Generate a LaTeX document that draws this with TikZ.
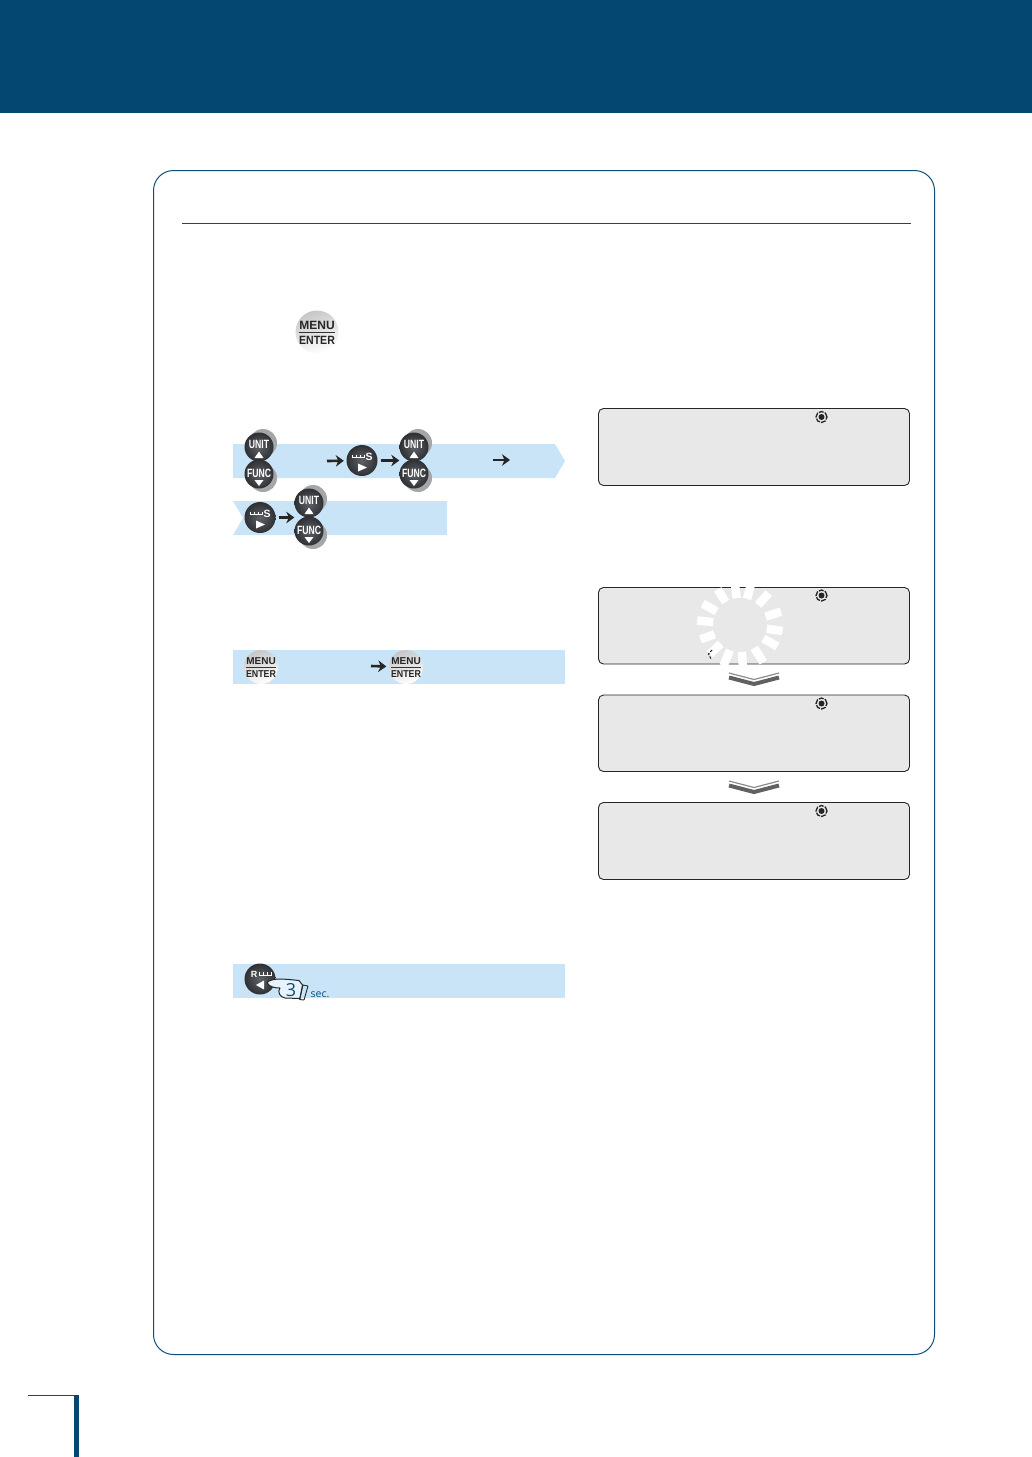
\documentclass[tikz,border=0pt]{standalone}
\usepackage{graphicx}
\usepackage{fontspec}
\setmainfont{Liberation Sans}
\newfontfamily\humanfont{Open Sans}
\usetikzlibrary{arrows.meta,calc}
\definecolor{navy}{HTML}{04476F}
\definecolor{framec}{HTML}{0B4F78}
\definecolor{bandc}{HTML}{C9E4F6}
\definecolor{lcdc}{HTML}{E8E8E8}
\definecolor{btnin}{HTML}{5E6266}
\definecolor{btnout}{HTML}{2E3034}
\definecolor{crescent}{HTML}{A4A6A8}
\tikzset{
  band/.style={fill=bandc,draw=none},
  lcd/.style={draw=black!85,line width=0.9pt,fill=lcdc,rounded corners=5pt},
  darkbtn/.style={circle,minimum size=#1,inner sep=0pt,shading=radial,inner color=btnin,outer color=btnout},
  lightbtn/.style={circle,minimum size=#1,inner sep=0pt,shading=axis,top color=black!22,bottom color=white,shading angle=20},
  backbtn/.style={circle,minimum size=28pt,inner sep=0pt,fill=crescent},
  btntext/.style={text=white,font=\bfseries\fontsize{12}{12}\selectfont,inner sep=0pt},
  menutext/.style={text=black!85,font=\bfseries\fontsize{#1}{#1}\selectfont,inner sep=0pt},
  step arrow/.style={-{Stealth[length=8pt,width=11.5pt,inset=2.5pt]},line width=2.6pt,draw=black!85},
  tick/.style={line width=0.7pt,draw=white},
  ray/.style={draw=white,line width=10pt},
  chevthin/.style={draw=black!45,line width=1.2pt},
  chevthick/.style={draw=black!62,line width=4pt},
  bullseye/.style={circle,minimum size=6pt,inner sep=0pt,fill=black!85},
  bullring/.style={circle,minimum size=11pt,inner sep=0pt,draw=black!85,line width=1.3pt,dash pattern=on 5pt off 1.2pt,fill=none},
  hand/.style={draw=black!85,line width=1pt,fill=bandc!45!white,line join=round},
  blue text/.style={text=framec,inner sep=0pt},
}
\newcommand{\unitbtn}[3]{%
  \node[backbtn] (#1b) at (#2+4,#3-4) {};
  \node[darkbtn=29pt] (#1) at (#2,#3) {};
  \node[btntext] (#1t) at (#2,#3-3) {\scalebox{0.72}[1]{UNIT}};
  \fill[white] (#2-4.5,#3+11) -- (#2+4.5,#3+11) -- (#2,#3+4.5) -- cycle;}
\newcommand{\funcbtn}[3]{%
  \node[backbtn] (#1b) at (#2+4,#3+4) {};
  \node[darkbtn=29pt] (#1) at (#2,#3) {};
  \node[btntext] (#1t) at (#2,#3-1) {\scalebox{0.72}[1]{FUNC}};
  \fill[white] (#2-4.5,#3+6) -- (#2+4.5,#3+6) -- (#2,#3+12) -- cycle;}
\newcommand{\sbtn}[3]{%
  \node[darkbtn=31pt] (#1) at (#2,#3) {};
  \node[btntext] (#1t) at (#2+7,#3-4) {\fontsize{10.5}{10.5}\selectfont S};
  \draw[tick] (#2-10,#3-6) -- (#2-10,#3-3) -- (#2+2,#3-3) (#2-6,#3-6) -- (#2-6,#3-3) (#2-2,#3-6) -- (#2-2,#3-3) (#2+2,#3-6) -- (#2+2,#3-3);
  \fill[white] (#2-4,#3+3) -- (#2-4,#3+11) -- (#2+5,#3+7) -- cycle;}
\newcommand{\menubtn}[5]{% name x y dia fontsize
  \node[lightbtn=#4pt] (#1) at (#2,#3) {};
  \node[menutext=#5] (#1m) at (#2,#3-5.5*#4/34) {MENU};
  \node[menutext=#5] (#1e) at (#2,#3+6.8*#4/34) {\scalebox{0.88}[1]{ENTER}};
  \draw[black!80,line width=0.7pt] (#2-#4*0.43,#3+0.5) -- (#2+#4*0.43,#3+0.5);}
\newcommand{\lcdicon}[3]{%
  \node[bullring] (#1r) at (#2,#3) {};
  \node[bullseye] (#1c) at (#2,#3) {};}
\newcommand{\chevron}[3]{%
  \coordinate (#1l) at (#2-25,#3-5);
  \coordinate (#1m) at (#2,#3+1.5);
  \coordinate (#1r) at (#2+25,#3-5);
  \draw[chevthin] (#1l) -- (#1m) -- (#1r);
  \draw[chevthick] ($(#1l)+(0,4.5)$) -- ($(#1m)+(0,4.5)$) -- ($(#1r)+(0,4.5)$);}
\begin{document}
\begin{tikzpicture}[x=1pt,y=-1pt]
\useasboundingbox (0,0) rectangle (1032,1457);
% header
\fill[navy] (0,0) rectangle (1032,113);
% main frame
\draw[framec,line width=1pt,rounded corners=20pt] (153.5,170.5) rectangle (934.5,1354.5);
\coordinate (ruleL) at (182,223.5);
\coordinate (ruleR) at (911,223.5);
\draw[framec,line width=0.9pt] (ruleL) -- (ruleR);
% footer mark
\coordinate (footL) at (28,1395);
\coordinate (footR) at (79,1395);
\draw[framec,line width=0.8pt] (footL) -- (footR);
\fill[navy] (74,1395) rectangle (79,1457);
% top menu button
\menubtn{m0}{317}{332}{43}{12}
% bands
\fill[band] (233,444) -- (555,444) -- (565,461) -- (555,478) -- (233,478) -- cycle;
\fill[band] (233,501) -- (447,501) -- (447,535) -- (233,535) -- (243,518) -- cycle;
\fill[band] (233,650) rectangle (565,684);
\fill[band] (233,964) rectangle (565,998);
% buttons, band 1
\unitbtn{u1}{259}{447}
\funcbtn{f1}{259}{474}
\sbtn{s1}{362}{460.5}
\unitbtn{u2}{414}{447}
\funcbtn{f2}{414}{474}
\coordinate (a1) at (327,461);
\draw[step arrow,shorten >=2.5pt] (a1) -- (s1);
\draw[step arrow,shorten <=3pt] (s1) -- (u2.west |- s1);
\coordinate (a2s) at (493,460);
\coordinate (a2e) at (510,460);
\draw[step arrow] (a2s) -- (a2e);
% band 2
\sbtn{s2}{260}{517.5}
\unitbtn{u3}{309}{503}
\funcbtn{f3}{309}{531}
\draw[step arrow,shorten <=3pt] (s2) -- (u3.west |- s2);
% band 3
\menubtn{m1}{261}{667}{34}{10}
\menubtn{m2}{406}{667}{34}{10}
\coordinate (a3) at (371,666);
\draw[step arrow,shorten >=2.5pt] (a3) -- (m2);
% band 4
\node[darkbtn=31pt] (r1) at (260,979) {};
\node[btntext] (r1t) at (254,974) {\fontsize{9}{9}\selectfont R};
\draw[tick] (259,972) -- (259,975) -- (272,975) (263,972) -- (263,975) (267,972) -- (267,975) (271,972) -- (271,975);
\fill[white] (256,985) -- (264,980.5) -- (264,989.5) -- cycle;
% hand
\draw[hand] (267,982.5) .. controls (272,978) and (282,979) .. (289,979.5) -- (299,980.5) -- (302.5,985) -- (300,998.5) -- (285,998) .. controls (280,997) and (277,992) .. (280,988) .. controls (275,988) and (269,987) .. (267,982.5) -- cycle;
\draw[black!85,line width=0.9pt] (303,985) -- (299.5,999.5) (308,986) -- (304,1000) (303,985) -- (308,986) (299.5,999.5) -- (304,1000);
\node[blue text,font=\humanfont\fontsize{18}{18}\selectfont] (three) at (291,990) {3};
\node[blue text,font=\humanfont\fontsize{10.5}{10.5}\selectfont,anchor=west] (sec) at (310.5,995) {sec.};
% displays
\draw[lcd] (598.5,408.5) rectangle (909.5,485.5);
\draw[lcd] (598.5,587.5) rectangle (909.5,664);
\draw[lcd] (598.5,695) rectangle (909.5,771.5);
\draw[lcd] (598.5,802.5) rectangle (909.5,879.5);
\lcdicon{i1}{821.5}{417}
\lcdicon{i2}{821.5}{595.5}
\lcdicon{i3}{821.5}{703.5}
\lcdicon{i4}{821.5}{811}
% sunburst
\coordinate (sun) at (740,625);
\foreach \ang/\r in {8/43,-18/43,-48/43,-75/44,-97/44,-122/42,-150/43,-174/43,160/42,136/42,112/44,86/44,58/44,30/43}{
  \draw[ray,line width=8.5pt] ($(sun)+(\ang:27)$) -- ($(sun)+(\ang:\r)$);
}
\draw[black!85,line width=1.1pt,dash pattern=on 2.5pt off 1.5pt] (712,650) -- (708.5,654) -- (711,659);
% chevrons
\chevron{c1}{754}{678}
\chevron{c2}{754}{786}
\end{tikzpicture}
\end{document}
